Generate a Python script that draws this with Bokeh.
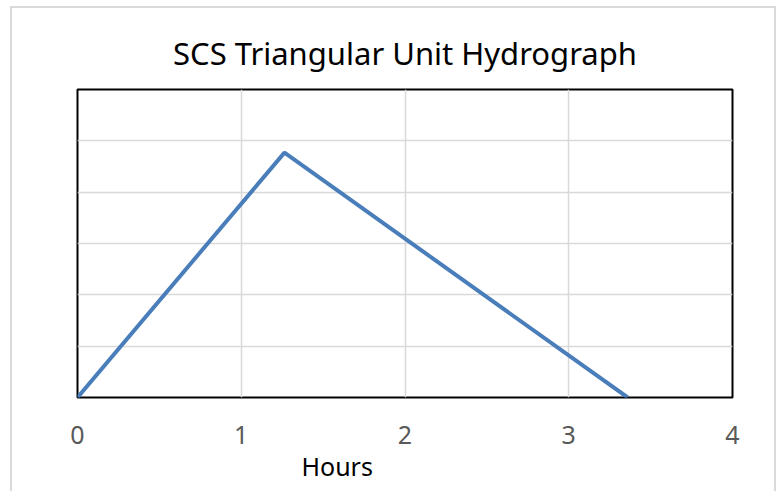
from bokeh.plotting import figure
from bokeh.models import Range1d, FixedTicker, Title
from bokeh.embed import file_html
from bokeh.resources import INLINE

hours = [0, 1.264, 3.36]
flow = [0, 4.77, 0]
x_ticks = [0, 1, 2, 3, 4]
y_ticks = [0, 1, 2, 3, 4, 5, 6]

p = figure(width=766, height=485, output_backend="svg", toolbar_location=None,
           x_range=Range1d(0, 4), y_range=Range1d(0, 6),
           min_border_left=65, min_border_right=46, min_border_top=81, min_border_bottom=96,
           margin=(6, 0, 0, 10))
p.styles = {"border-left": "2px solid #d9d9d9", "border-top": "2px solid #d9d9d9",
            "border-right": "2px solid #d9d9d9"}

p.title.text = "SCS Triangular Unit Hydrograph"
p.title.align = "center"
p.title.text_font = "Noto Sans"
p.title.text_font_size = "31px"
p.title.text_font_style = "normal"
p.title.text_color = "black"
p.title.standoff = 32

p.line(hours, flow, line_color="#4a7ebb", line_width=4)

p.outline_line_color = "black"
p.outline_line_width = 2
p.outline_line_alpha = 1

p.xaxis.ticker = FixedTicker(ticks=x_ticks)
p.xaxis.axis_line_color = None
p.xaxis.major_tick_line_color = None
p.xaxis.minor_tick_line_color = None
p.xaxis.major_label_text_font = "Noto Sans"
p.xaxis.major_label_text_font_size = "25px"
p.xaxis.major_label_text_color = "#595959"
p.xaxis.major_label_standoff = 22

p.yaxis.ticker = FixedTicker(ticks=y_ticks)
p.yaxis.visible = False

p.xgrid.grid_line_color = "#d9d9d9"
p.xgrid.grid_line_width = 1.5
p.ygrid.grid_line_color = "#d9d9d9"
p.ygrid.grid_line_width = 1.5

xlabel = Title(text="Hours", align="left", offset=224, text_font="Noto Sans",
               text_font_size="25px", text_font_style="normal", text_color="black",
               standoff=0)
p.add_layout(xlabel, "below")

open("out.html", "w").write(file_html(p, INLINE))
